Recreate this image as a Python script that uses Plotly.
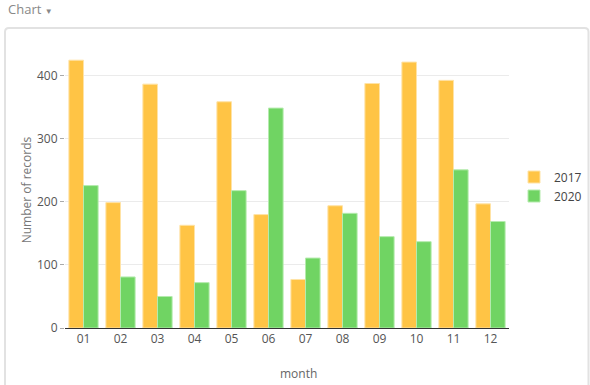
import plotly.graph_objects as go

months = ["01", "02", "03", "04", "05", "06", "07", "08", "09", "10", "11", "12"]
records_2017 = [425, 199, 387, 163, 359, 180, 77, 194, 388, 422, 393, 197]
records_2020 = [226, 81, 50, 72, 218, 349, 111, 182, 145, 137, 251, 169]

W, H = 590, 385
L, R, T, B = 65, 81, 52, 57
pw, ph = W - L - R, H - T - B

def px(x):
    return (x - L) / pw

def py(y):
    return (H - B - y) / ph

fig = go.Figure()
fig.add_trace(go.Bar(x=months, y=records_2017, name="2017",
                     marker=dict(color="#FFC445", line=dict(color="#FFE3A6", width=1))))
fig.add_trace(go.Bar(x=months, y=records_2020, name="2020",
                     marker=dict(color="#70D463", line=dict(color="#B5EBAE", width=1))))

# card border with rounded top corners
r = 4
x0, y0, x1, y1 = 5, 28, 588.5, 400
path = (f"M {px(x0)},{py(y1)} L {px(x0)},{py(y0 + r)} "
        f"Q {px(x0)},{py(y0)} {px(x0 + r)},{py(y0)} L {px(x1 - r)},{py(y0)} "
        f"Q {px(x1)},{py(y0)} {px(x1)},{py(y0 + r)} L {px(x1)},{py(y1)}")

fig.update_layout(
    width=W, height=H,
    margin=dict(l=L, r=R, t=T, b=B, autoexpand=False),
    paper_bgcolor="white", plot_bgcolor="white",
    font=dict(family="Open Sans, Noto Sans, sans-serif", size=12, color="#555"),
    barmode="group", bargap=0.21, bargroupgap=0,
    showlegend=True,
    legend=dict(x=px(514), y=py(186.5), xanchor="left", yanchor="middle",
                font=dict(size=12, color="#444"), tracegroupgap=4),
    xaxis=dict(automargin=False,
               showline=True, linecolor="#333", linewidth=1, ticks="",
               tickfont=dict(size=12, color="#555"), showgrid=False),
    yaxis=dict(title=dict(text="Number of records", font=dict(size=12, color="#777"), standoff=2),
               automargin=False,
               range=[0, 438], tickvals=[0, 100, 200, 300, 400],
               showgrid=True, gridcolor="#ebebeb", gridwidth=1,
               ticks="outside", ticklen=4, tickcolor="#aaa",
               zeroline=False, tickfont=dict(size=12, color="#555")),
    shapes=[dict(type="path", path=path, xref="paper", yref="paper",
                 line=dict(color="#e2e2e2", width=2), layer="below")],
    annotations=[dict(text="Chart <span style='font-size:8px'>▼</span>",
                      xref="paper", yref="paper", x=px(6), y=py(9),
                      xanchor="left", yanchor="middle", showarrow=False,
                      font=dict(size=13, color="#888")),
                 dict(text="month", xref="paper", yref="paper",
                      x=px(298.5), y=py(373), xanchor="center", yanchor="middle",
                      showarrow=False, font=dict(size=12, color="#666"))],
)

fig.write_html("out.html", config={"displayModeBar": False},
               post_script="document.body.style.margin='0';document.body.style.overflow='hidden';")
